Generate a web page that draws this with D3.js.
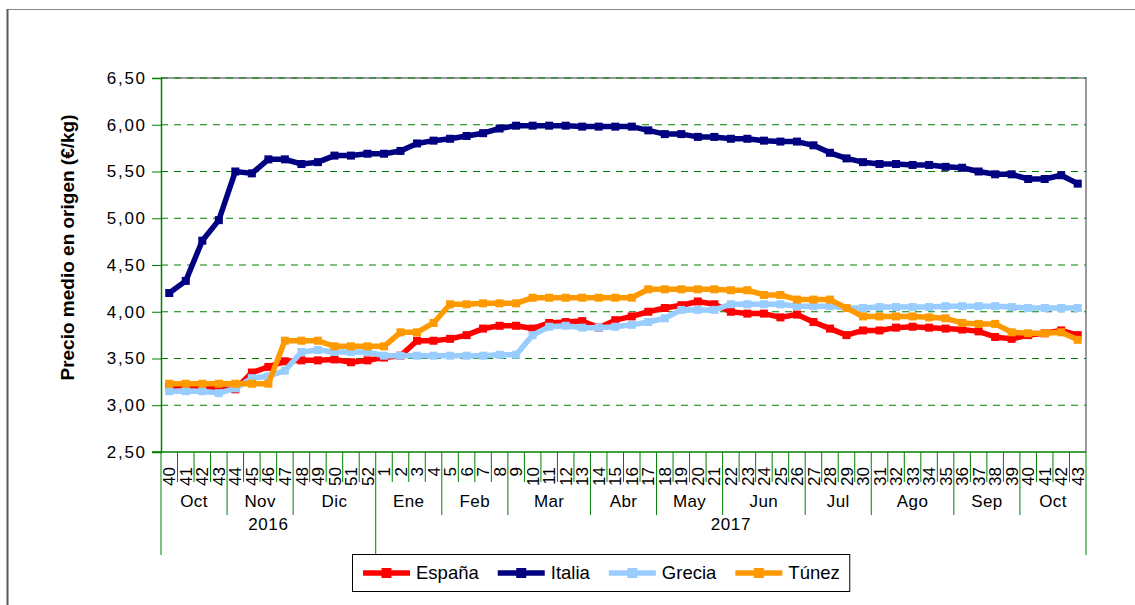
<!DOCTYPE html>
<html>
<head>
<meta charset="utf-8">
<script src="https://cdn.jsdelivr.net/npm/d3@7"></script>
<style>
  body { margin: 0; background: #fff; }
  svg text { font-family: "Liberation Sans", Arial, sans-serif; fill: #000; }
</style>
</head>
<body>
<div id="chart"></div>
<script>
// week numbers on the category axis (2016 wk 40 -> 2017 wk 43)
const weekLabels = [40, 41, 42, 43, 44, 45, 46, 47, 48, 49, 50, 51, 52,
    1, 2, 3, 4, 5, 6, 7, 8, 9, 10, 11, 12, 13, 14, 15, 16, 17, 18, 19, 20, 21,
    22, 23, 24, 25, 26, 27, 28, 29, 30, 31, 32, 33, 34, 35, 36, 37, 38, 39, 40,
    41, 42, 43];
const monthNames = ["Oct", "Nov", "Dic", "Ene", "Feb", "Mar", "Abr", "May", "Jun", "Jul", "Ago", "Sep", "Oct"];
const monthSpans = [4, 4, 5, 4, 4, 5, 4, 4, 5, 4, 5, 4, 4];
const yearNames = ["2016", "2017"];
const yearSpans = [13, 43];
const yTicks = [2.5, 3, 3.5, 4, 4.5, 5, 5.5, 6, 6.5];

const espana = [3.20, 3.21, 3.20, 3.17, 3.17, 3.35, 3.41, 3.47, 3.48, 3.48, 3.49, 3.46, 3.48,
    3.51, 3.53, 3.69, 3.69, 3.71, 3.75, 3.82, 3.85, 3.85, 3.82, 3.88, 3.89, 3.90, 3.83, 3.91,
    3.95, 4.00, 4.04, 4.07, 4.11, 4.08, 4.00, 3.98, 3.98, 3.94, 3.97, 3.89, 3.82, 3.75, 3.80,
    3.80, 3.83, 3.84, 3.83, 3.82, 3.81, 3.79, 3.73, 3.71, 3.75, 3.77, 3.80, 3.75];
const italia = [4.20, 4.33, 4.76, 4.98, 5.50, 5.48, 5.63, 5.63, 5.58, 5.60, 5.67, 5.67, 5.69,
    5.69, 5.72, 5.80, 5.83, 5.85, 5.88, 5.91, 5.96, 5.99, 5.99, 5.99, 5.99, 5.98, 5.98, 5.98,
    5.98, 5.94, 5.90, 5.90, 5.87, 5.87, 5.85, 5.85, 5.83, 5.82, 5.82, 5.78, 5.70, 5.64, 5.60,
    5.58, 5.58, 5.57, 5.57, 5.55, 5.54, 5.50, 5.47, 5.47, 5.42, 5.42, 5.46, 5.37];
const grecia = [3.15, 3.15, 3.15, 3.13, 3.18, 3.29, 3.31, 3.37, 3.57, 3.59, 3.57, 3.57, 3.57,
    3.53, 3.53, 3.53, 3.53, 3.53, 3.53, 3.53, 3.54, 3.54, 3.75, 3.84, 3.85, 3.83, 3.83, 3.84,
    3.86, 3.89, 3.93, 4.02, 4.02, 4.02, 4.08, 4.08, 4.08, 4.08, 4.06, 4.06, 4.06, 4.04, 4.04,
    4.05, 4.05, 4.05, 4.05, 4.06, 4.06, 4.06, 4.06, 4.05, 4.04, 4.04, 4.04, 4.04];
const tunez = [3.23, 3.23, 3.23, 3.23, 3.23, 3.23, 3.23, 3.69, 3.69, 3.69, 3.63, 3.63, 3.63,
    3.63, 3.78, 3.78, 3.88, 4.08, 4.08, 4.09, 4.09, 4.09, 4.15, 4.15, 4.15, 4.15, 4.15, 4.15,
    4.15, 4.24, 4.24, 4.24, 4.24, 4.24, 4.23, 4.23, 4.18, 4.18, 4.13, 4.13, 4.13, 4.04, 3.95,
    3.95, 3.95, 3.95, 3.94, 3.93, 3.88, 3.87, 3.87, 3.78, 3.77, 3.77, 3.78, 3.70];

const seriesNames = ["España", "Italia", "Grecia", "Túnez"];
const seriesValues = [espana, italia, grecia, tunez];
const seriesColors = ["#ff0000", "#000080", "#99ccff", "#ff9900"];

const width = 1135, height = 605;
const plot = {left: 161, top: 78, right: 1086, bottom: 452};
const green = "#008000";

let svg = d3.select("#chart")
    .append("svg")
    .attr("width", width)
    .attr("height", height);

// outer chart frame (only left + top visible in the picture)
svg.append("line")
    .attr("x1", 7.5).attr("x2", width + 5)
    .attr("y1", 9.5).attr("y2", 9.5)
    .attr("stroke", "#888").attr("stroke-width", 1.2);
svg.append("line")
    .attr("x1", 7.5).attr("x2", 7.5)
    .attr("y1", 9).attr("y2", height + 5)
    .attr("stroke", "#555b60").attr("stroke-width", 2);

let x = d3.scaleBand()
    .domain(d3.range(weekLabels.length))
    .range([plot.left, plot.right])
    .paddingInner(0)
    .paddingOuter(0);

let y = d3.scaleLinear()
    .domain([2.5, 6.5])
    .range([plot.bottom, plot.top]);

const edge = i => x.range()[0] + i * x.step();
const fmt = v => d3.format(".2f")(v).replace(".", ",");

// plot border (top + right grey)
svg.append("line")
    .attr("x1", plot.left).attr("x2", plot.right)
    .attr("y1", plot.top).attr("y2", plot.top)
    .attr("stroke", "#999").attr("stroke-width", 2);
svg.append("line")
    .attr("x1", plot.right).attr("x2", plot.right)
    .attr("y1", plot.top - 1).attr("y2", plot.bottom)
    .attr("stroke", "#999").attr("stroke-width", 2);

// dashed gridlines
svg.append("g")
    .selectAll("line")
    .data(yTicks.filter(d => d > 2.5))
    .enter()
    .append("line")
    .attr("x1", plot.left).attr("x2", plot.right)
    .attr("y1", d => y(d)).attr("y2", d => y(d))
    .attr("stroke", green)
    .attr("stroke-width", 1)
    .attr("stroke-dasharray", "7,6");

// y axis
let yAxis = svg.append("g")
    .attr("transform", `translate(${plot.left},0)`)
    .call(d3.axisLeft(y).tickValues(yTicks).tickFormat(fmt).tickSize(9).tickPadding(7));
yAxis.select(".domain").attr("stroke", green).attr("stroke-width", 1.5);
yAxis.selectAll(".tick line").attr("stroke", green);
yAxis.selectAll(".tick text")
    .style("font-size", "17px")
    .style("letter-spacing", "1.7px")
    .attr("dx", "1.7px");

svg.append("text")
    .attr("transform", `translate(${74}, ${247.5}) rotate(-90)`)
    .style("text-anchor", "middle")
    .style("font-size", "19px")
    .style("font-weight", "bold")
    .text("Precio medio en origen (€/kg)");

// x axis: baseline + week/month/year tick lines
svg.append("line")
    .attr("x1", plot.left - 9).attr("x2", plot.right)
    .attr("y1", plot.bottom).attr("y2", plot.bottom)
    .attr("stroke", green).attr("stroke-width", 1.5);

let monthEdges = d3.cumsum(monthSpans);
let yearEdges = d3.cumsum(yearSpans);

svg.append("g")
    .selectAll("line")
    .data(d3.range(weekLabels.length + 1))
    .enter()
    .append("line")
    .attr("x1", d => edge(d)).attr("x2", d => edge(d))
    .attr("y1", plot.bottom)
    .attr("y2", d => {
        if (d === 0 || yearEdges.includes(d)) return 555;
        if (monthEdges.includes(d)) return 515;
        return 482;
    })
    .attr("stroke", green)
    .attr("stroke-width", 1);

svg.append("g")
    .selectAll("text")
    .data(weekLabels)
    .enter()
    .append("text")
    .attr("transform", (d, i) => `translate(${x(i) + x.bandwidth() / 2}, ${467}) rotate(-90)`)
    .attr("dy", "0.36em")
    .style("text-anchor", "end")
    .style("font-size", "17px")
    .text(d => d);

svg.append("g")
    .selectAll("text")
    .data(monthNames)
    .enter()
    .append("text")
    .attr("x", (d, i) => (edge(monthEdges[i] - monthSpans[i]) + edge(monthEdges[i])) / 2)
    .attr("y", 507)
    .style("text-anchor", "middle")
    .style("font-size", "17px")
    .style("letter-spacing", "0.4px")
    .text(d => d);

svg.append("g")
    .selectAll("text")
    .data(yearNames)
    .enter()
    .append("text")
    .attr("x", (d, i) => (edge(yearEdges[i] - yearSpans[i]) + edge(yearEdges[i])) / 2)
    .attr("y", 530)
    .style("text-anchor", "middle")
    .style("font-size", "17px")
    .style("letter-spacing", "0.6px")
    .text(d => d);

// series
let line = d3.line()
    .x((d, i) => x(i) + x.bandwidth() / 2)
    .y(d => y(d));

seriesValues.forEach((vals, s) => {
    let g = svg.append("g");
    g.append("path")
        .datum(vals)
        .attr("d", line)
        .attr("fill", "none")
        .attr("stroke", seriesColors[s])
        .attr("stroke-width", 5.5)
        .attr("stroke-linejoin", "round");
    g.selectAll("rect")
        .data(vals)
        .enter()
        .append("rect")
        .attr("x", (d, i) => x(i) + x.bandwidth() / 2 - 4)
        .attr("y", d => y(d) - 4)
        .attr("width", 8)
        .attr("height", 8)
        .attr("fill", seriesColors[s]);
});

// legend
let legend = svg.append("g");
let legendBox = legend.append("rect")
    .attr("fill", "#fff")
    .attr("stroke", "#000")
    .attr("stroke-width", 1);

let lx = 363;
const ly = 573;
seriesNames.forEach((name, s) => {
    legend.append("line")
        .attr("x1", lx).attr("x2", lx + 47)
        .attr("y1", ly).attr("y2", ly)
        .attr("stroke", seriesColors[s])
        .attr("stroke-width", 5.5);
    legend.append("rect")
        .attr("x", lx + 23.5 - 5).attr("y", ly - 5)
        .attr("width", 10).attr("height", 10)
        .attr("fill", seriesColors[s]);
    let t = legend.append("text")
        .attr("x", lx + 53)
        .attr("y", ly)
        .attr("dy", "0.35em")
        .style("font-size", "18.5px")
        .text(name);
    lx = lx + 53 + t.node().getComputedTextLength() + 19;
});

legendBox
    .attr("x", 352.5).attr("y", 554.5)
    .attr("width", lx - 19 + 10 - 352.5)
    .attr("height", 37);
</script>
</body>
</html>
